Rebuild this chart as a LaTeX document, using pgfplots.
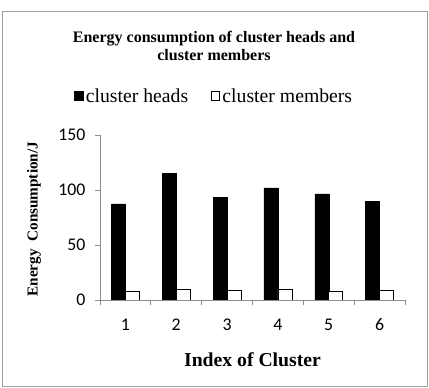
\documentclass[border=0pt]{standalone}
\usepackage{pgfplots}
\pgfplotsset{compat=1.18}
\usepackage{fontspec}
\setmainfont{Liberation Serif}
\newfontfamily\carlito{Carlito}
\definecolor{framegray}{RGB}{160,160,160}
\definecolor{axgray}{RGB}{140,140,140}
\begin{document}
\begin{tikzpicture}[x=1pt,y=1pt]
\useasboundingbox (0,0) rectangle (429,388);
\fill[white] (0,0) rectangle (429,388);
\draw[framegray, line width=1pt] (2.5,1) rectangle (427,376);
\node[align=center, font=\fontsize{16}{18.5}\selectfont\bfseries] at (214,342) {Energy consumption of cluster heads and\\cluster members};
\begin{axis}[
  at={(100pt,88pt)}, anchor=south west,
  scale only axis, width=305pt, height=165pt,
  xmin=0.5, xmax=6.5, ymin=0, ymax=150,
  axis x line*=bottom, axis y line*=left,
  axis line style={axgray, line width=0.8pt},
  ytick={0,50,100,150},
  xtick={1,2,3,4,5,6},
  minor xtick={0.5,1.5,2.5,3.5,4.5,5.5,6.5},
  major x tick style={draw=none},
  tick style={axgray, line width=0.8pt},
  tick align=outside,
  major tick length=5pt, minor tick length=5pt,
  /pgf/number format/assume math mode=true,
  ticklabel style={font=\carlito\fontsize{17.8}{20}\selectfont},
  yticklabel style={xshift=-6pt},
  xticklabel style={anchor=north, text height=12pt, text depth=0pt, yshift=-10pt},
  ybar=0pt, bar width=14pt,
  xlabel={Index of Cluster},
  ylabel={Energy\ \ Consumption/J},
  xlabel style={at={(axis description cs:0.5,-0.36)}, anchor=center, font=\fontsize{19.7}{22}\selectfont\bfseries},
  ylabel style={at={(axis description cs:-0.216,0.49)}, anchor=center, font=\fontsize{15.2}{17}\selectfont\bfseries},
  legend style={draw=none, fill=none, at={(axis description cs:0.375,1.236)}, anchor=center,
    legend columns=2, font=\fontsize{19.7}{22}\selectfont,
    /tikz/every even column/.append style={column sep=20pt},
    nodes={inner sep=2.5pt}},
  legend image code/.code={\draw[#1, draw=black, line width=0.8pt] (0pt,-4pt) rectangle (8.5pt,4.5pt);},
]
\addplot[fill=black, draw=black] coordinates {(1,87.4) (2,115.2) (3,93.5) (4,101.9) (5,96.5) (6,89.8)};
\addplot[fill=white, draw=black, line width=0.8pt] coordinates {(1,7.9) (2,9.7) (3,8.8) (4,9.7) (5,8.2) (6,8.5)};
\legend{cluster heads, cluster members}
\end{axis}
\end{tikzpicture}
\end{document}
